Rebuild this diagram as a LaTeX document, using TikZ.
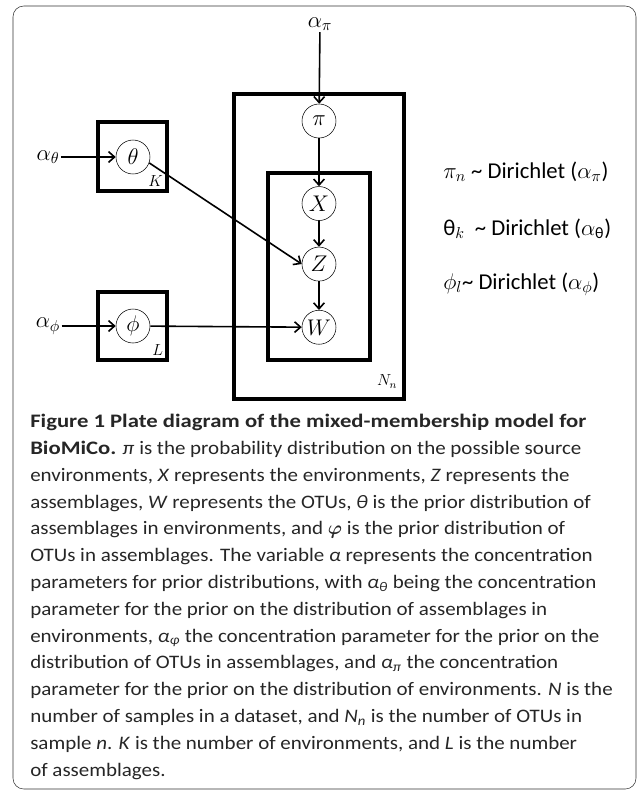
\documentclass[tikz,border=0pt]{standalone}
\usepackage{fix-cm}
\usepackage{amsmath}
\usepackage{bm}
\usepackage{fontspec}
\newfontfamily\capfont{Carlito}[FakeStretch=1.1, BoldFeatures={FakeStretch=1.19}]
\newfontfamily\eqfont{Carlito}
\usetikzlibrary{arrows.meta, positioning}

\begin{document}
\begin{tikzpicture}[x=0.75pt, y=-0.75pt, >={Straight Barb[length=4.5pt, width=8pt]}, node distance=20pt,
    var/.style={circle, draw, thin, minimum size=25.5pt, inner sep=0pt, font=\fontsize{17}{20}\selectfont},
    hyper/.style={inner sep=1pt, font=\fontsize{17}{20}\selectfont},
    plate/.style={rectangle, draw, line width=2.3pt, inner sep=0pt},
    platelab/.style={anchor=south east, inner sep=0pt, font=\fontsize{12}{14}\selectfont},
    arr/.style={->, line width=1.2pt},
    eqn/.style={anchor=west, inner sep=0pt, font=\eqfont\fontsize{17}{20}\selectfont}]
\useasboundingbox (0,0) rectangle (637,790);
\node[draw=black!80, rounded corners=8pt, minimum width=467.25pt, minimum height=587.25pt] (frame) at (324.5,397.5) {};
% plates
\node[plate, minimum width=127.5pt, minimum height=228.75pt] (pn) at (319,246.5) {};
\node[plate, minimum width=76.5pt, minimum height=140.25pt] (pw) at (319,266.5) {};
\node[plate, minimum width=51.75pt, minimum height=51.75pt] (pk) at (132.5,156.5) {};
\node[plate, minimum width=51.75pt, minimum height=51pt] (pl) at (132.5,326) {};
\node[platelab, xshift=-4pt, yshift=4pt] at (pk.south east) {$K$};
\node[platelab, xshift=-4pt, yshift=4pt] at (pl.south east) {$L$};
\node[platelab, xshift=-6pt, yshift=9pt] at (pn.south east) {$N_n$};
% variables
\node[var] (pi) at (319,121) {$\pi$};
\node[var, below=36pt of pi] (x) {$X$};
\node[var, below=19.5pt of x] (z) {$Z$};
\node[var, below=21.5pt of z] (w) {$W$};
\node[var] (th) at (133,157) {$\theta$};
\node[var] (ph) at (133,326) {$\phi$};
\node[hyper] (api) at (320,24) {$\alpha_\pi$};
\node[hyper] (ath) at (48,157) {$\alpha_\theta$};
\node[hyper] (aph) at (48,326) {$\alpha_\phi$};
\draw[arr] (api) -- (pi);
\draw[arr] (pi) -- (x);
\draw[arr] (x) -- (z);
\draw[arr] (z) -- (w);
\draw[arr] (ath) -- (th);
\draw[arr] (aph) -- (ph);
\draw[arr] (th.-20) -- (z.west);
\draw[arr] (ph) -- (w);
% priors
\node[eqn] (e1) at (443,172) {$\pi_n$ \textasciitilde{} Dirichlet ($\alpha_\pi$)};
\node[eqn] (e2) at (443,229) {θ$_k$\ \ \textasciitilde{} Dirichlet ($\alpha_{\text{θ}}$)};
\node[eqn] (e3) at (443,284) {$\phi_l$\textasciitilde{} Dirichlet ($\alpha_\phi$)};
% caption
\node[anchor=north west, align=left, inner sep=0pt, text=black!85,
      font=\capfont\fontsize{14.3}{20.1}\selectfont] (cap) at (30,414) {%
\textbf{Figure 1 Plate diagram of the mixed-membership model for}\\
\textbf{BioMiCo.} \textit{π} is the probability distribution on the possible source\\
environments, \textit{X} represents the environments, \textit{Z} represents the\\
assemblages, \textit{W} represents the OTUs, \textit{θ} is the prior distribution of\\
assemblages in environments, and $\bm{\varphi}$ is the prior distribution of\\
OTUs in assemblages. The variable \textit{α} represents the concentration\\
parameters for prior distributions, with \textit{α\textsubscript{θ}} being the concentration\\
parameter for the prior on the distribution of assemblages in\\
environments, \textit{α\textsubscript{φ}} the concentration parameter for the prior on the\\
distribution of OTUs in assemblages, and \textit{α\textsubscript{π}} the concentration\\
parameter for the prior on the distribution of environments. \textit{N} is the\\
number of samples in a dataset, and \textit{N\textsubscript{n}} is the number of OTUs in\\
sample \textit{n}. \textit{K} is the number of environments, and \textit{L} is the number\\
of assemblages.};
\end{tikzpicture}
\end{document}
